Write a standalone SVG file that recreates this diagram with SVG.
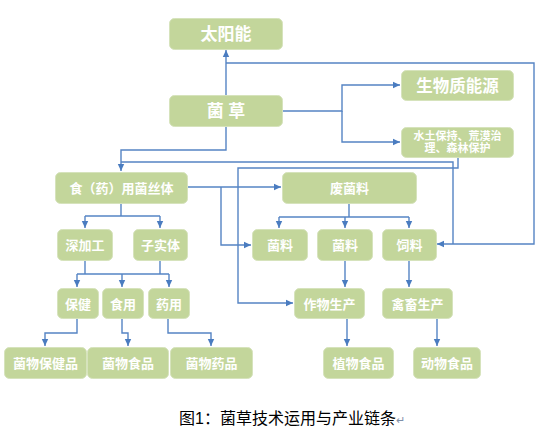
<svg xmlns="http://www.w3.org/2000/svg" width="539" height="432" viewBox="0 0 539 432">
<style>
.n rect{fill:#c3d69b;stroke:#d6e3bc;stroke-width:1}
.n text{fill:#ffffff;font-family:"Liberation Sans","Noto Sans CJK SC",sans-serif;font-weight:bold;text-anchor:middle;dominant-baseline:central;font-size:13px}
.c path{fill:none;stroke:#5584c4;stroke-width:1.4}
.cap{font-family:"Liberation Sans","Noto Sans CJK SC",sans-serif;font-size:16px;fill:#000}
</style>
<defs>
<marker id="ar" markerWidth="8" markerHeight="8" refX="7" refY="4" orient="auto" markerUnits="userSpaceOnUse">
<path d="M0,0.8 L7,4 L0,7.2 Z" fill="#4a7cc0"/>
</marker>
</defs>
<rect width="539" height="432" fill="#ffffff"/>
<g class="c" id="connectors">
<path d="M226,95 V50" marker-end="url(#ar)"/>
<path d="M226,63 H534 V244 H437" marker-end="url(#ar)"/>
<path d="M283,111 H342 V85 H400" marker-end="url(#ar)"/>
<path d="M342,111 V142 H400" marker-end="url(#ar)"/>
<path d="M226,126 V150 H121 V171" marker-end="url(#ar)"/>
<path d="M121,162 H453 V244"/>
<path d="M458,157 V168 H238 V303 H293" marker-end="url(#ar)"/>
<path d="M187,187 H281" marker-end="url(#ar)"/>
<path d="M221,187 V245 H251" marker-end="url(#ar)"/>
<path d="M121,203 V216"/>
<path d="M85,216 H160"/>
<path d="M85,216 V228" marker-end="url(#ar)"/>
<path d="M160,216 V228" marker-end="url(#ar)"/>
<path d="M85,260 V274"/>
<path d="M160,260 V274"/>
<path d="M77,274 H169"/>
<path d="M77,274 V287" marker-end="url(#ar)"/>
<path d="M122,274 V287" marker-end="url(#ar)"/>
<path d="M169,274 V287" marker-end="url(#ar)"/>
<path d="M77,318 V333 H45 V346" marker-end="url(#ar)"/>
<path d="M122,318 V333 H128 V346" marker-end="url(#ar)"/>
<path d="M168,318 V333 H211 V346" marker-end="url(#ar)"/>
<path d="M349,203 V217"/>
<path d="M279,217 H409"/>
<path d="M279,217 V228" marker-end="url(#ar)"/>
<path d="M345,217 V228" marker-end="url(#ar)"/>
<path d="M409,217 V228" marker-end="url(#ar)"/>
<path d="M345,260 V287" marker-end="url(#ar)"/>
<path d="M409,260 V287" marker-end="url(#ar)"/>
<path d="M347,318 V346" marker-end="url(#ar)"/>
<path d="M437,318 V346" marker-end="url(#ar)"/>
</g>
<g class="n" id="n-taiyangneng"><rect x="169.5" y="18.5" width="113" height="31" rx="5"/><text x="226" y="34" style="font-size:17px">太阳能</text></g>
<g class="n" id="n-juncao"><rect x="169.5" y="95.5" width="113" height="31" rx="5"/><text x="226" y="111" style="font-size:17px">菌 草</text></g>
<g class="n" id="n-shengwuzhi"><rect x="401.5" y="70.5" width="112" height="30" rx="5"/><text x="457.5" y="86" style="font-size:16.5px">生物质能源</text></g>
<g class="n" id="n-shuitu"><rect x="401.5" y="127.5" width="112" height="30" rx="5"/><text x="457.5" y="136" style="font-size:11px">水土保持、荒漠治</text><text x="457.5" y="148" style="font-size:11px">理、森林保护</text></g>
<g class="n" id="n-junsiti"><rect x="55.5" y="172.5" width="132" height="31" rx="5"/><text x="121.5" y="188">食（药）用菌丝体</text></g>
<g class="n" id="n-feijunliao"><rect x="282.5" y="172.5" width="134" height="31" rx="5"/><text x="349.5" y="188">废菌料</text></g>
<g class="n" id="n-shenjiagong"><rect x="57.5" y="229.5" width="55" height="31" rx="5"/><text x="85" y="245">深加工</text></g>
<g class="n" id="n-zishiti"><rect x="133.5" y="229.5" width="54" height="31" rx="5"/><text x="160.5" y="245">子实体</text></g>
<g class="n" id="n-junliao1"><rect x="252.5" y="229.5" width="55" height="31" rx="5"/><text x="280" y="245">菌料</text></g>
<g class="n" id="n-junliao2"><rect x="317.5" y="229.5" width="55" height="31" rx="5"/><text x="345" y="245">菌料</text></g>
<g class="n" id="n-siliao"><rect x="382.5" y="229.5" width="54" height="31" rx="5"/><text x="409.5" y="245">饲料</text></g>
<g class="n" id="n-baojian"><rect x="57.5" y="288.5" width="41" height="30" rx="5"/><text x="78" y="304">保健</text></g>
<g class="n" id="n-shiyong"><rect x="102.5" y="288.5" width="41" height="30" rx="5"/><text x="123" y="304">食用</text></g>
<g class="n" id="n-yaoyong"><rect x="148.5" y="288.5" width="41" height="30" rx="5"/><text x="169" y="304">药用</text></g>
<g class="n" id="n-zuowu"><rect x="294.5" y="288.5" width="70" height="30" rx="5"/><text x="329.5" y="304">作物生产</text></g>
<g class="n" id="n-qinxu"><rect x="382.5" y="288.5" width="70" height="30" rx="5"/><text x="417.5" y="304">禽畜生产</text></g>
<g class="n" id="n-baojianpin"><rect x="4.5" y="347.5" width="82" height="31" rx="5"/><text x="45.5" y="363">菌物保健品</text></g>
<g class="n" id="n-shipin"><rect x="87.5" y="347.5" width="81" height="31" rx="5"/><text x="128" y="363">菌物食品</text></g>
<g class="n" id="n-yaopin"><rect x="170.5" y="347.5" width="82" height="31" rx="5"/><text x="211.5" y="363">菌物药品</text></g>
<g class="n" id="n-zhiwu"><rect x="323.5" y="347.5" width="70" height="31" rx="5"/><text x="358.5" y="363">植物食品</text></g>
<g class="n" id="n-dongwu"><rect x="413.5" y="347.5" width="67" height="31" rx="5"/><text x="447" y="363">动物食品</text></g>
<text class="cap" x="179" y="424">图1：菌草技术运用与产业链条<tspan style="fill:#7f8fa8;font-size:11px">↵</tspan></text>
</svg>
